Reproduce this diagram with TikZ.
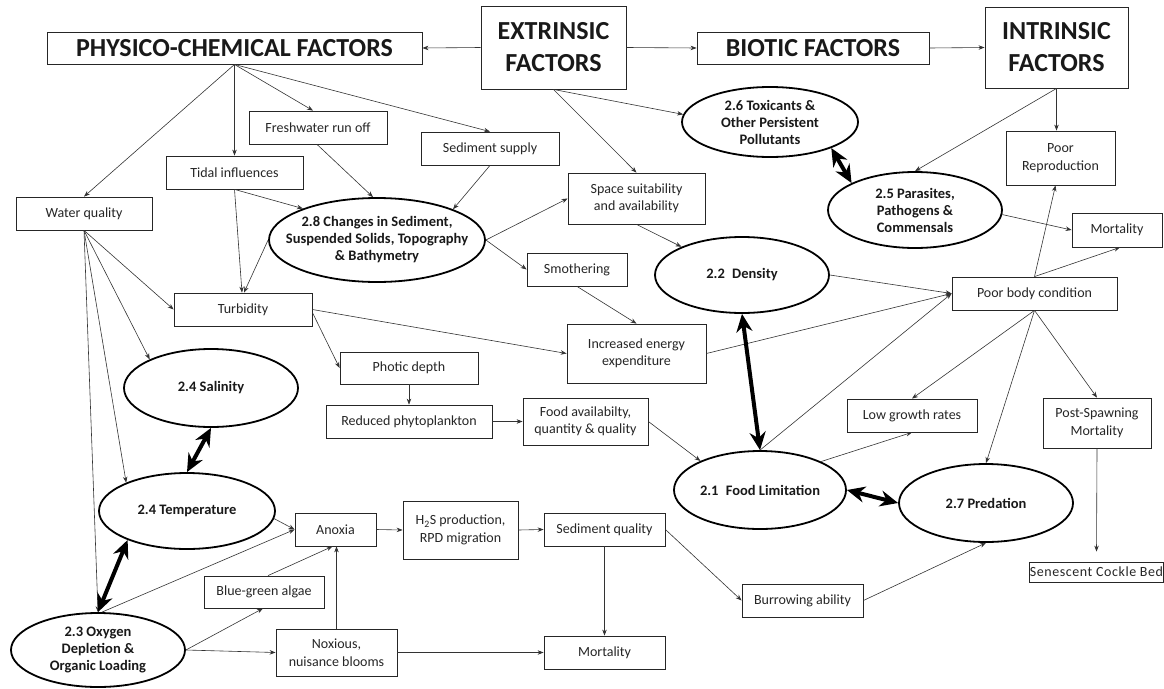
\documentclass[tikz,border=0pt]{standalone}
\usepackage{fontspec}
\setmainfont{Carlito}
\usetikzlibrary{arrows.meta,shapes.geometric,calc}
\begin{document}
\begin{tikzpicture}[x=1pt,y=-1pt,
 bx/.style={draw=black!85, line width=0.8pt, fill=white, inner xsep=2pt, inner ysep=1pt, align=center, font=\fontsize{14}{17.5}\selectfont, text=black!85},
 ttl/.style={draw=black!85, line width=0.9pt, fill=white, inner sep=1pt, align=center, font=\fontsize{26}{32}\selectfont\bfseries, text=black!90},
 ell/.style={draw=black, ellipse, line width=1.8pt, fill=white, inner sep=0pt},
 etx/.style={align=center, font=\fontsize{14.5}{17}\selectfont\bfseries, text=black!90, inner sep=0pt},
 ar/.style={draw=black!80, line width=0.6pt, -{Stealth[length=6pt,width=4.5pt]}},
 dbl/.style={draw=black, line width=4pt, {Stealth[length=18pt,width=16pt]}-{Stealth[length=18pt,width=16pt]}},
]
\useasboundingbox (0,0) rectangle (1164,688);

% titles
\node[ttl, minimum width=375pt, minimum height=32pt] (phys) at (234.5,48) {PHYSICO-CHEMICAL FACTORS};
\node[ttl, minimum width=145pt, minimum height=83pt] (ext) at (553.5,47.5) {EXTRINSIC\\FACTORS};
\node[ttl, minimum width=232pt, minimum height=32pt] (bio) at (813,48) {BIOTIC FACTORS};
\node[ttl, minimum width=143pt, minimum height=81pt] (intr) at (1056.5,47.5) {INTRINSIC\\FACTORS};

% boxes
\node[bx, minimum width=138pt, minimum height=33pt] (fresh) at (318,127.5) {Freshwater run off};
\node[bx, minimum width=137pt, minimum height=33pt] (tidal) at (234.5,172.5) {Tidal influences};
\node[bx, minimum width=136pt, minimum height=33pt] (wq) at (84,213.5) {Water quality};
\node[bx, minimum width=138pt, minimum height=33pt] (sedsup) at (490,148.5) {Sediment supply};
\node[bx, minimum width=137pt, minimum height=51pt] (space) at (636.5,198.5) {Space suitability\\and availability};
\node[bx, minimum width=109pt, minimum height=54pt] (poorrep) at (1060.5,158) {Poor\\Reproduction};
\node[bx, minimum width=90pt, minimum height=34pt] (mortR) at (1117,230) {Mortality};
\node[bx, minimum width=165pt, minimum height=33pt] (pbc) at (1034.5,293.5) {Poor body condition};
\node[bx, minimum width=130pt, minimum height=33pt] (lgr) at (912,415.5) {Low growth rates};
\node[bx, minimum width=108pt, minimum height=50pt] (psm) at (1097,423) {Post-Spawning\\Mortality};
\node[bx, minimum width=133pt, minimum height=20pt, inner sep=0.5pt, font=\fontsize{14}{16}\selectfont\addfontfeature{LetterSpace=4}] (sen) at (1096.5,572) {Senescent Cockle Bed};
\node[bx, minimum width=138pt, minimum height=33pt] (turb) at (243,309.5) {Turbidity};
\node[bx, minimum width=100pt, minimum height=33pt] (smoth) at (577,269.5) {Smothering};
\node[bx, minimum width=139pt, minimum height=59pt] (iee) at (636.5,353.5) {Increased energy\\expenditure};
\node[bx, minimum width=138pt, minimum height=32pt] (photic) at (409,368) {Photic depth};
\node[bx, minimum width=166pt, minimum height=33pt] (redphy) at (409,421.5) {Reduced phytoplankton};
\node[bx, minimum width=125pt, minimum height=47pt] (foodav) at (585.5,421.5) {Food availabilty,\\quantity \& quality};
\node[bx, minimum width=81pt, minimum height=33pt] (anox) at (335.5,529.5) {Anoxia};
\node[bx, minimum width=120pt, minimum height=32pt] (bga) at (264,592) {Blue-green algae};
\node[bx, minimum width=121pt, minimum height=47pt] (nox) at (336.5,652.5) {Noxious,\\nuisance blooms};
\node[bx, minimum width=115pt, minimum height=58pt] (h2s) at (460.5,530) {H\textsubscript{2}S production,\\RPD migration};
\node[bx, minimum width=121pt, minimum height=33pt] (sedq) at (604.5,529.5) {Sediment quality};
\node[bx, minimum width=121pt, minimum height=33pt] (mortB) at (604.5,652.5) {Mortality};
\node[bx, minimum width=121pt, minimum height=33pt] (burrow) at (802.5,600.5) {Burrowing ability};

% ellipses
\node[ell, minimum width=176pt, minimum height=70pt, label={[etx]center:{2.6 Toxicants \&\\Other Persistent\\Pollutants}}] (tox) at (770,122) {};
\node[ell, minimum width=174pt, minimum height=76pt, label={[etx]center:{2.5 Parasites,\\Pathogens \&\\Commensals}}] (para) at (915,210) {};
\node[ell, minimum width=216pt, minimum height=84pt, label={[etx]center:{2.8 Changes in Sediment,\\Suspended Solids, Topography\\\& Bathymetry}}] (chg) at (377,240) {};
\node[ell, minimum width=174pt, minimum height=76pt, label={[etx]center:{2.2\hspace{0.5em}Density}}] (dens) at (742,275) {};
\node[ell, minimum width=174pt, minimum height=78pt, label={[etx]center:{2.4 Salinity}}] (sal) at (211,388) {};
\node[ell, minimum width=176pt, minimum height=76pt, label={[etx]center:{2.4 Temperature}}] (temp) at (187,511) {};
\node[ell, minimum width=174pt, minimum height=74pt, label={[etx]center:{2.3 Oxygen\\Depletion \&\\Organic Loading}}] (oxy) at (98,650) {};
\node[ell, minimum width=172pt, minimum height=78pt, label={[etx]center:{2.1\hspace{0.5em}Food Limitation}}] (food) at (760,490) {};
\node[ell, minimum width=174pt, minimum height=78pt, label={[etx]center:{2.7 Predation}}] (pred) at (986,503) {};

% connectors
\draw[ar] (ext.west) -- (phys.east);
\draw[ar] (ext.east) -- (bio.west);
\draw[ar] (bio.east) -- (intr.west);
\draw[ar] (phys.south) -- (wq.north);
\draw[ar] (phys.south) -- (tidal.north);
\draw[ar] (phys.south) -- ([xshift=-5pt]fresh.north);
\draw[ar] (phys.south) -- (sedsup.north);
\draw[ar] ([xshift=-1pt]fresh.south) -- ([xshift=-4pt]chg.north);
\draw[ar] (tidal.south) -- (chg.157);
\draw[ar] (tidal.south) -- ([xshift=-1pt]turb.north);
\draw[ar] (chg.west) -- ([xshift=1pt]turb.north);
\draw[ar] (sedsup.south) -- (chg.22);
\draw[ar] (chg.east) -- (space.west);
\draw[ar] (chg.east) -- (smoth.west);
\draw[ar] (ext.south) -- (space.north);
\draw[ar] (ext.south) -- (tox.175);
\draw[ar] (intr.south) -- ([xshift=-4pt]poorrep.north);
\draw[ar] (intr.south) -- (para.north);
\draw[dbl] (tox.-23) -- (para.157);
\draw[ar] (para.-3) -- (mortR.west);
\draw[ar] (space.south) -- (dens.155);
\draw[ar] (smoth.south) -- (iee.north);
\draw[ar] (turb.east) -- (iee.west);
\draw[ar] ([yshift=-3pt]turb.east) -- (photic.west);
\draw[ar] (photic.south) -- (redphy.north);
\draw[ar] (redphy.east) -- (foodav.west);
\draw[ar] (foodav.east) -- (food.154);
\draw[ar] (dens.east) -- (pbc.west);
\draw[ar] (iee.east) -- (pbc.west);
\draw[ar] (food.north) -- (pbc.west);
\draw[dbl] (dens.south) -- (food.north);
\draw[ar] (pbc.north) -- ([xshift=-5pt]poorrep.south);
\draw[ar] (pbc.north) -- ([xshift=3pt]mortR.south);
\draw[ar] (pbc.south) -- (lgr.north);
\draw[ar] (pbc.south) -- (psm.north);
\draw[ar] (pbc.south) -- (pred.north);
\draw[ar] (food.25) -- (lgr.south);
\draw[dbl] (food.east) -- (pred.west);
\draw[ar] (psm.south) -- ([yshift=10pt]sen.north);
\draw[ar] (wq.south) -- (turb.west);
\draw[ar] (wq.south) -- (sal.155);
\draw[ar] (wq.south) -- (temp.155);
\draw[ar] (wq.south) -- (oxy.north);
\draw[dbl] (sal.south) -- (temp.north);
\draw[dbl] (temp.-154) -- (oxy.north);
\draw[ar] (temp.-5) -- (anox.west);
\draw[ar] ([xshift=4pt]oxy.north) -- (anox.west);
\draw[ar] (oxy.east) -- ([xshift=-1pt]bga.south);
\draw[ar] (oxy.east) -- (nox.west);
\draw[ar] ([xshift=4pt]bga.north) -- ([xshift=-3pt]anox.south);
\draw[ar] (nox.north) -- (nox.north |- anox.south);
\draw[ar] (anox.east) -- (h2s.west);
\draw[ar] (h2s.east) -- (sedq.west);
\draw[ar] (sedq.south) -- (mortB.north);
\draw[ar] (nox.east) -- (mortB.west);
\draw[ar] (sedq.east) -- (burrow.west);
\draw[ar] (burrow.east) -- (pred.south);
\end{tikzpicture}
\end{document}
